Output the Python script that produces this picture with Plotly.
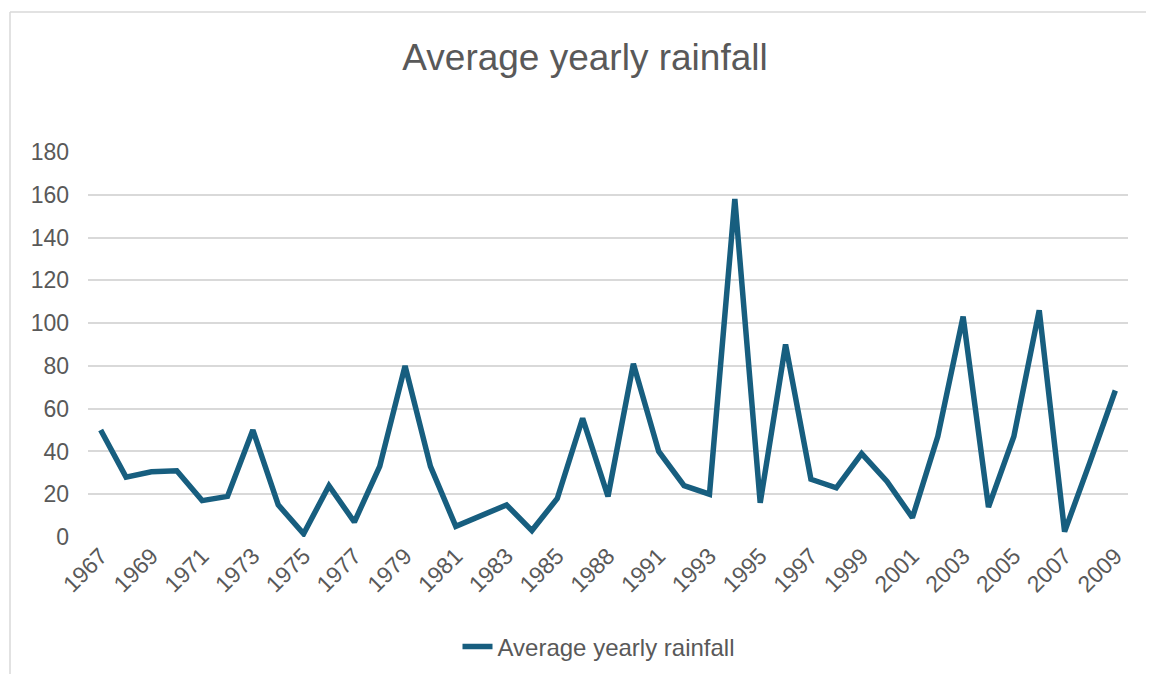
import plotly.graph_objects as go

years = ["1967","1968","1969","1970","1971","1972","1973","1974","1975","1976",
         "1977","1978","1979","1980","1981","1982","1983","1984","1985","1986",
         "1988","1989","1991","1992","1993","1994","1995","1996","1997","1998",
         "1999","2000","2001","2002","2003","2004","2005","2006","2007","2008","2009"]
rainfall = [50, 28, 30.5, 31, 17, 19, 50, 15, 1.5, 24,
            7, 33, 80, 33, 5, 10, 15, 3, 18, 55.5,
            19, 81, 40, 24, 20, 158, 16, 90, 27, 23,
            39, 26, 9, 47, 103, 14, 47, 106, 2.5, 35, 68.5]
series_name = "Average yearly rainfall"
y_ticks = [0, 20, 40, 60, 80, 100, 120, 140, 160, 180]

txt = "#595959"
fig = go.Figure()
fig.add_trace(go.Scatter(x=years, y=rainfall, mode="lines", name=series_name,
                         line=dict(color="#175E7F", width=5.5, shape="linear")))

# page body has an 8px margin; positions below are in figure coordinates
OFF = 8
W, H = 1154, 674
l, t = 88 - OFF, 152 - OFF
pw, ph = 1040, 385
r = W - l - pw
b = H - t - ph

def px(xp):  # screen pixel -> paper x
    return (xp - OFF - l) / pw

def py(yp):  # screen pixel -> paper y
    return (t + ph - (yp - OFF)) / ph

fig.update_layout(
    width=W, height=H,
    margin=dict(l=l, r=r, t=t, b=b),
    paper_bgcolor="white", plot_bgcolor="white",
    font=dict(family="Liberation Sans, Arial, sans-serif", color=txt),
    title=dict(text="Average yearly rainfall", x=0.5, xanchor="center",
               y=1 - (57 - OFF) / H, yanchor="middle",
               font=dict(size=37, color=txt)),
    showlegend=True,
    legend=dict(orientation="h", x=px(599), xanchor="center", y=py(647), yanchor="middle",
                font=dict(size=24, color=txt)),
    xaxis=dict(type="category", range=[-0.5, len(years) - 0.5],
               tickmode="array", tickvals=years[::2], ticktext=years[::2],
               tickangle=-45, tickfont=dict(size=23, color=txt),
               showgrid=False, showline=False, ticks="", zeroline=False,
               automargin=False),
    yaxis=dict(range=[0, 180], tickmode="array", tickvals=y_ticks,
               tickfont=dict(size=23, color=txt),
               showgrid=True, gridcolor="#d9d9d9", gridwidth=1.5,
               zeroline=False, showline=False, ticks="", ticklabelstandoff=18,
               automargin=False),
    shapes=[
        dict(type="line", xref="paper", yref="paper", x0=px(10), x1=px(1170),
             y0=py(12), y1=py(12), line=dict(color="#d9d9d9", width=1.5)),
        dict(type="line", xref="paper", yref="paper", x0=px(10), x1=px(10),
             y0=py(12), y1=py(690), line=dict(color="#d9d9d9", width=1.5)),
    ],
)

fig.write_html("out.html")
